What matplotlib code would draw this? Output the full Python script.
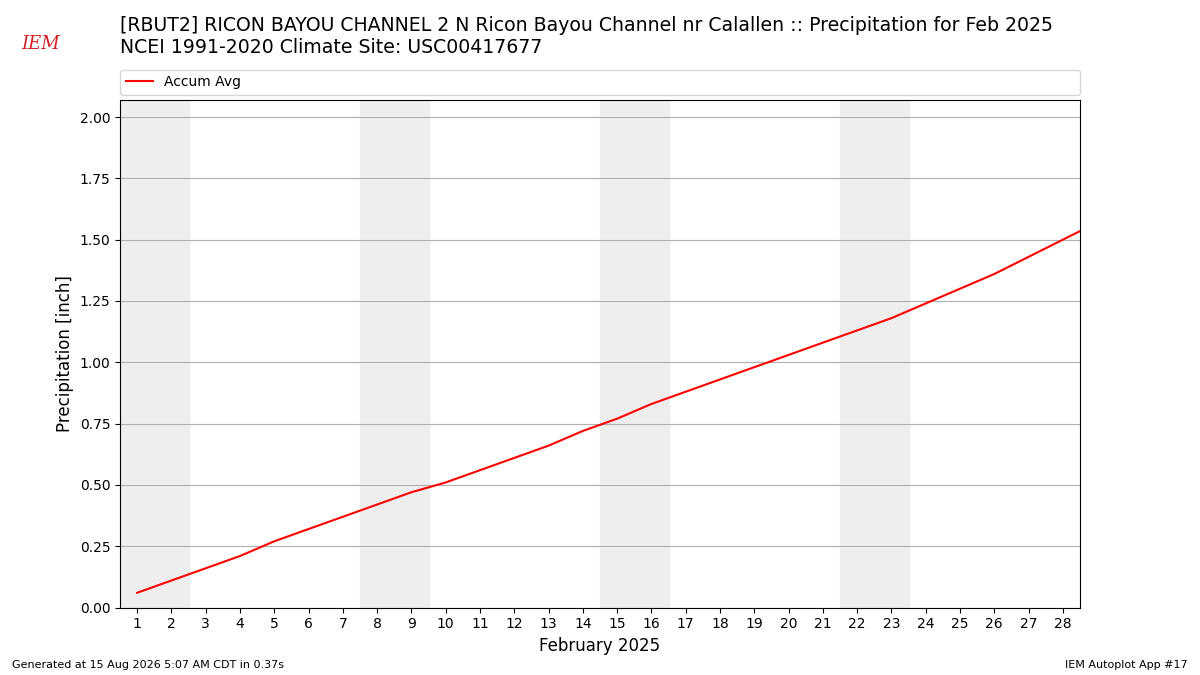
import matplotlib
matplotlib.use("Agg")
import matplotlib.pyplot as plt

days = list(range(1, 30))
accum_avg = [0.06, 0.11, 0.16, 0.21, 0.27, 0.32, 0.37, 0.42, 0.47, 0.51,
             0.56, 0.61, 0.66, 0.72, 0.77, 0.83, 0.88, 0.93, 0.98, 1.03,
             1.08, 1.13, 1.18, 1.24, 1.30, 1.36, 1.43, 1.50, 1.57]
weekends = [(1, 2), (8, 9), (15, 16), (22, 23)]

fig = plt.figure(figsize=(12, 6.75), dpi=100)
ax = fig.add_axes([0.1, 0.1, 0.8, 0.752])

# weekend shading
for start, end in weekends:
    ax.axvspan(start - 0.5, end + 0.5, color="#eeeeee", zorder=0)

ax.plot(days, accum_avg, color="r", lw=1.5, label="Accum Avg")

ax.set_xlim(0.5, 28.5)
ax.set_ylim(0, 2.07)
ax.set_xticks(range(1, 29))
ax.set_yticks([0, 0.25, 0.5, 0.75, 1.0, 1.25, 1.5, 1.75, 2.0])
ax.yaxis.set_major_formatter(matplotlib.ticker.FormatStrFormatter("%.2f"))
ax.grid(axis="y", color="#b0b0b0")
ax.set_axisbelow(True)
ax.set_xlabel("February 2025", fontsize=12)
ax.set_ylabel("Precipitation [inch]", fontsize=12)
ax.legend(loc="lower left", bbox_to_anchor=(0, 1.01, 1, 0.05), mode="expand",
          ncol=1, fontsize=10, borderaxespad=0)

fig.text(0.1, 0.946, "[RBUT2] RICON BAYOU CHANNEL 2 N Ricon Bayou Channel nr Calallen :: "
         "Precipitation for Feb 2025\nNCEI 1991-2020 Climate Site: USC00417677",
         fontsize=13.6, va="center", ha="left")
fig.text(0.018, 0.935, "IEM", color="#d42027", fontsize=13, style="italic",
         family="serif", ha="left", va="center")
fig.text(0.01, 0.01, "Generated at 15 Aug 2026 5:07 AM CDT in 0.37s", fontsize=8)
fig.text(0.99, 0.01, "IEM Autoplot App #17", fontsize=8, ha="right")

fig.savefig("out.png", dpi=100)
